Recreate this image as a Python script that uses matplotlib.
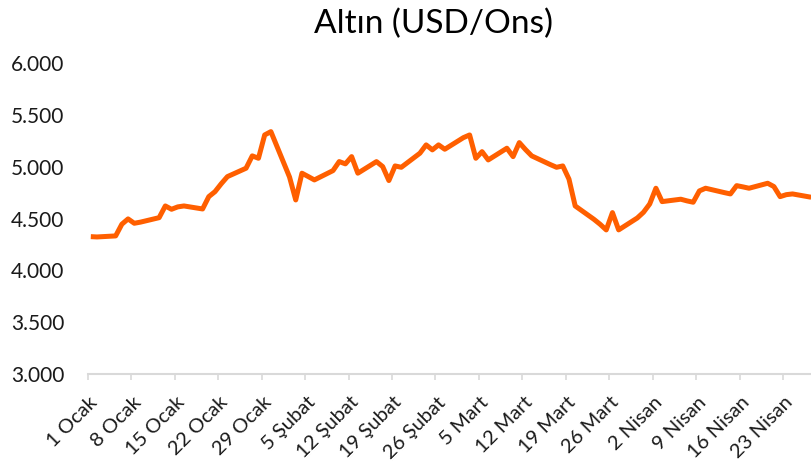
import matplotlib
matplotlib.use("Agg")
import matplotlib.pyplot as plt
import matplotlib.dates as mdates
import matplotlib.transforms as mtransforms
import numpy as np
import pandas as pd

# ---- data ----
dates = [
    "2026-01-01", "2026-01-02", "2026-01-05", "2026-01-06", "2026-01-07", "2026-01-08", "2026-01-09",
    "2026-01-12", "2026-01-13", "2026-01-14", "2026-01-15", "2026-01-16",
    "2026-01-19", "2026-01-20", "2026-01-21", "2026-01-22", "2026-01-23",
    "2026-01-26", "2026-01-27", "2026-01-28", "2026-01-29", "2026-01-30",
    "2026-02-02", "2026-02-03", "2026-02-04", "2026-02-05", "2026-02-06",
    "2026-02-09", "2026-02-10", "2026-02-11", "2026-02-12", "2026-02-13",
    "2026-02-16", "2026-02-17", "2026-02-18", "2026-02-19", "2026-02-20",
    "2026-02-23", "2026-02-24", "2026-02-25", "2026-02-26", "2026-02-27",
    "2026-03-02", "2026-03-03", "2026-03-04", "2026-03-05", "2026-03-06",
    "2026-03-09", "2026-03-10", "2026-03-11", "2026-03-12", "2026-03-13",
    "2026-03-16", "2026-03-17", "2026-03-18", "2026-03-19", "2026-03-20",
    "2026-03-23", "2026-03-24", "2026-03-25", "2026-03-26", "2026-03-27",
    "2026-03-30", "2026-03-31", "2026-04-01", "2026-04-02", "2026-04-03",
    "2026-04-06", "2026-04-07", "2026-04-08", "2026-04-09", "2026-04-10",
    "2026-04-13", "2026-04-14", "2026-04-15", "2026-04-16", "2026-04-17",
    "2026-04-20", "2026-04-21", "2026-04-22", "2026-04-23", "2026-04-24",
    "2026-04-27",
]
gold = [
    4325, 4322, 4332, 4445, 4496, 4454, 4465,
    4508, 4621, 4589, 4612, 4621,
    4592, 4711, 4759, 4835, 4904,
    4985, 5104, 5081, 5306, 5338,
    4900, 4679, 4937, 4905, 4872,
    4962, 5049, 5027, 5097, 4937,
    5049, 5001, 4866, 5007, 4994,
    5130, 5210, 5162, 5210, 5168,
    5280, 5306, 5081, 5145, 5065,
    5178, 5097, 5232, 5165, 5104,
    5020, 4994, 5007, 4880, 4621,
    4493, 4445, 4390, 4557, 4390,
    4505, 4560, 4640, 4792, 4663,
    4686, 4670, 4657, 4766, 4792,
    4750, 4737, 4817, 4805, 4792,
    4840, 4808, 4711, 4730, 4737,
    4705,
]
tick_dates = ["2026-01-01", "2026-01-08", "2026-01-15", "2026-01-22", "2026-01-29",
              "2026-02-05", "2026-02-12", "2026-02-19", "2026-02-26",
              "2026-03-05", "2026-03-12", "2026-03-19", "2026-03-26",
              "2026-04-02", "2026-04-09", "2026-04-16", "2026-04-23"]
tick_labels = ["1 Ocak", "8 Ocak", "15 Ocak", "22 Ocak", "29 Ocak",
               "5 Şubat", "12 Şubat", "19 Şubat", "26 Şubat",
               "5 Mart", "12 Mart", "19 Mart", "26 Mart",
               "2 Nisan", "9 Nisan", "16 Nisan", "23 Nisan"]
y_ticks = [3000, 3500, 4000, 4500, 5000, 5500, 6000]
y_labels = ["3.000", "3.500", "4.000", "4.500", "5.000", "5.500", "6.000"]
title = "Altın (USD/Ons)"

plt.rcParams['font.family'] = ['Lato', 'DejaVu Sans']

W, H = 812, 471
fig = plt.figure(figsize=(W / 100, H / 100), dpi=100)
left, right = 87.7 / W, 1.0
bottom, top = (H - 374) / H, (H - 63) / H
ax = fig.add_axes([left, bottom, right - left, top - bottom])

x = mdates.date2num(pd.to_datetime(dates)) + 0.5
ax.plot(x, gold, color="#FF5F00", lw=3.6, solid_joinstyle="round", solid_capstyle="butt")

x0 = mdates.date2num(pd.Timestamp("2026-01-01"))
ax.set_xlim(x0, x0 + (W - 87.7) / 6.21)
ax.set_ylim(3000, 6000)

for s in ["top", "right", "left"]:
    ax.spines[s].set_visible(False)
ax.spines["bottom"].set_color("#d9d9d9")
ax.spines["bottom"].set_linewidth(1.5)

ax.set_yticks(y_ticks)
ax.set_yticklabels(y_labels, fontsize=15, color="#1a1a1a")
ax.tick_params(axis="y", length=0, pad=17)

ax.set_xticks(mdates.date2num(pd.to_datetime(tick_dates)))
ax.set_xticklabels(tick_labels, fontsize=14.5, color="#1a1a1a",
                   rotation=45, ha="right", va="center", rotation_mode="anchor")
ax.tick_params(axis="x", length=4.5, width=1.2, color="#d9d9d9", direction="out", pad=14)
offset = mtransforms.ScaledTranslation(7 / 100, 0, fig.dpi_scale_trans)
for lab in ax.get_xticklabels():
    lab.set_transform(lab.get_transform() + offset)

fig.text(434 / W, 1 - 24 / H, title, ha="center", va="center", fontsize=24, color="#000000")

fig.savefig("out.png", dpi=100)
